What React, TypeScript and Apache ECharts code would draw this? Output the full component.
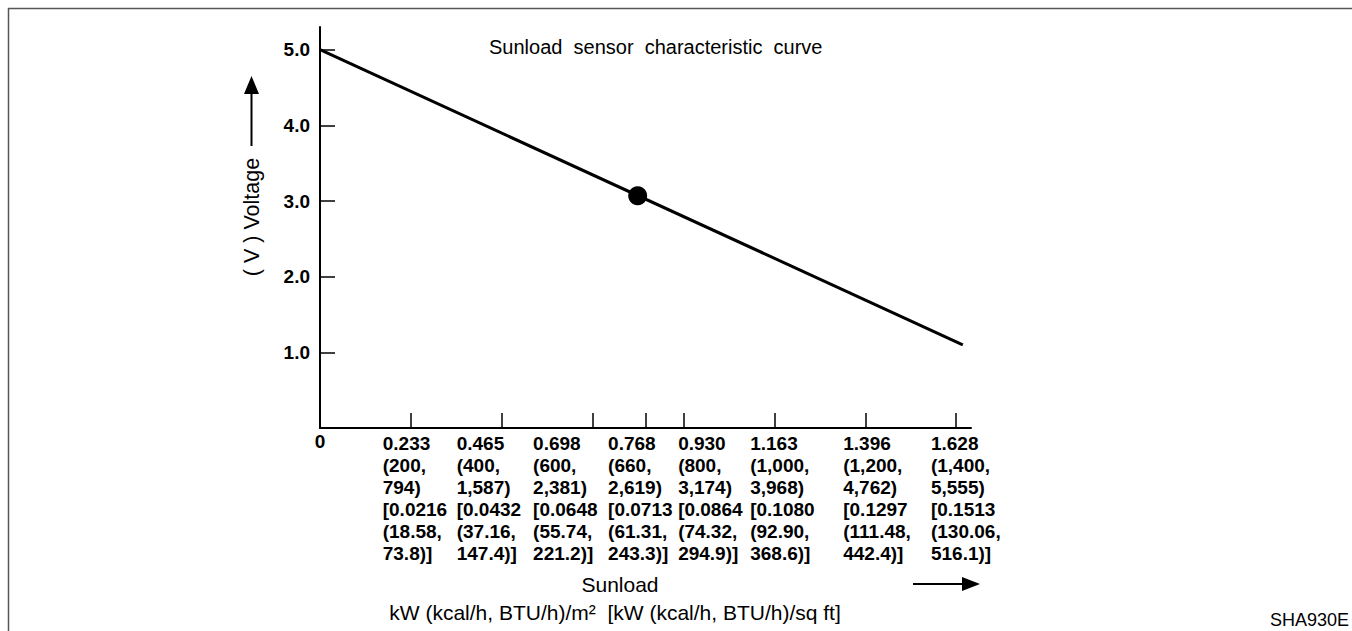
import React, { useEffect, useRef } from "react";
import * as echarts from "echarts";

// Sunload axis: positions of tick marks as drawn (kW/m², linear scale)
const tickMarks = [0.233, 0.465, 0.698, 0.834, 0.93, 1.163, 1.396, 1.628];
// Tick label texts
const tickLabels = [
  "0.233\n(200,\n794)\n[0.0216\n(18.58,\n73.8)]",
  "0.465\n(400,\n1,587)\n[0.0432\n(37.16,\n147.4)]",
  "0.698\n(600,\n2,381)\n[0.0648\n(55.74,\n221.2)]",
  "0.768\n(660,\n2,619)\n[0.0713\n(61.31,\n243.3)]",
  "0.930\n(800,\n3,174)\n[0.0864\n(74.32,\n294.9)]",
  "1.163\n(1,000,\n3,968)\n[0.1080\n(92.90,\n368.6)]",
  "1.396\n(1,200,\n4,762)\n[0.1297\n(111.48,\n442.4)]",
  "1.628\n(1,400,\n5,555)\n[0.1513\n(130.06,\n516.1)]",
];
// Where each label block starts along the axis (layout)
const labelAnchors = [0.1605, 0.3498, 0.5453, 0.7373, 0.9165, 1.1009, 1.339, 1.5635];

const voltTicks = [1, 2, 3, 4, 5];

// Characteristic curve (sunload, voltage)
const curveX = [0, 1.645];
const curveY = [5.0, 1.1];
// Marked point
const pointX = [0.813];
const pointY = [3.07];

const X_MAX = 1.666;
const Y_MAX = 5.3;

const FONT = "'Liberation Sans', Arial, Helvetica, sans-serif";

export default function App() {
  const ref = useRef<HTMLDivElement>(null);

  useEffect(() => {
    if (!ref.current) return;
    const chart = echarts.init(ref.current, null, { renderer: "svg" });

    const option: any = {
      animation: false,
      backgroundColor: "#fff",
      textStyle: { fontFamily: FONT },
      grid: { left: 320, right: 381, top: 27, bottom: 203, containLabel: false },
      xAxis: [
        {
          type: "value",
          position: "bottom",
          min: 0,
          max: X_MAX,
          axisLine: { show: true, onZero: false, lineStyle: { color: "#000", width: 2 } },
          axisTick: {
            show: true,
            inside: true,
            length: 15,
            customValues: tickMarks,
            lineStyle: { color: "#000", width: 1.5 },
          },
          axisLabel: {
            show: true,
            customValues: [0],
            formatter: () => "0",
            color: "#000",
            fontWeight: "bold",
            fontSize: 19,
            fontFamily: FONT,
            margin: 4,
          },
          splitLine: { show: false },
        },
        {
          type: "value",
          position: "bottom",
          gridIndex: 0,
          min: 0,
          max: X_MAX,
          axisLine: { show: false },
          axisTick: { show: false },
          axisLabel: {
            show: true,
            customValues: labelAnchors,
            formatter: (v: number) => {
              const i = labelAnchors.findIndex((a) => Math.abs(a - v) < 1e-6);
              return i >= 0 ? tickLabels[i] : "";
            },
            align: "left",
            color: "#000",
            fontWeight: "bold",
            fontSize: 19,
            lineHeight: 22,
            fontFamily: FONT,
            margin: 4,
          },
          splitLine: { show: false },
        },
      ],
      yAxis: {
        type: "value",
        min: 0,
        max: Y_MAX,
        axisLine: { show: true, onZero: false, lineStyle: { color: "#000", width: 2 } },
        axisTick: {
          show: true,
          inside: true,
          length: 15,
          customValues: voltTicks,
          lineStyle: { color: "#000", width: 1.5 },
        },
        axisLabel: {
          show: true,
          customValues: voltTicks,
          formatter: (v: number) => v.toFixed(1),
          color: "#000",
          fontWeight: "bold",
          fontSize: 19,
          fontFamily: FONT,
          margin: 10,
        },
        splitLine: { show: false },
      },
      series: [
        {
          type: "line",
          xAxisIndex: 0,
          data: curveX.map((x, i) => [x, curveY[i]]),
          showSymbol: false,
          lineStyle: { color: "#000", width: 3 },
          silent: true,
        },
        {
          type: "scatter",
          xAxisIndex: 0,
          data: pointX.map((x, i) => [x, pointY[i]]),
          symbol: "circle",
          symbolSize: 19,
          itemStyle: { color: "#000", opacity: 1 },
          silent: true,
        },
      ],
      graphic: [
        // frame
        { type: "line", shape: { x1: 8, y1: 8.5, x2: 1352, y2: 8.5 }, style: { stroke: "#555", lineWidth: 1.5 } },
        { type: "line", shape: { x1: 8.5, y1: 8, x2: 8.5, y2: 631 }, style: { stroke: "#555", lineWidth: 1.5 } },
        // title
        {
          type: "text",
          x: 489,
          y: 47,
          style: {
            text: "Sunload  sensor  characteristic  curve",
            fill: "#000",
            font: `20px ${FONT}`,
            textVerticalAlign: "middle",
          },
        },
        // y axis name
        {
          type: "text",
          x: 252,
          y: 217,
          rotation: Math.PI / 2,
          style: {
            text: "( V ) Voltage",
            fill: "#000",
            font: `21.5px ${FONT}`,
            textAlign: "center",
            textVerticalAlign: "middle",
          },
        },
        // up arrow
        { type: "line", shape: { x1: 251.5, y1: 146, x2: 251.5, y2: 90 }, style: { stroke: "#000", lineWidth: 2 } },
        { type: "polygon", shape: { points: [[251.5, 76], [244, 94], [259, 94]] }, style: { fill: "#000" } },
        // x axis name
        {
          type: "text",
          x: 620,
          y: 584,
          style: {
            text: "Sunload",
            fill: "#000",
            font: `21px ${FONT}`,
            textAlign: "center",
            textVerticalAlign: "middle",
          },
        },
        {
          type: "text",
          x: 615,
          y: 612,
          style: {
            text: "kW (kcal/h, BTU/h)/m²  [kW (kcal/h, BTU/h)/sq ft]",
            fill: "#000",
            font: `21px ${FONT}`,
            textAlign: "center",
            textVerticalAlign: "middle",
          },
        },
        // right arrow
        { type: "line", shape: { x1: 913, y1: 584, x2: 966, y2: 584 }, style: { stroke: "#000", lineWidth: 2 } },
        { type: "polygon", shape: { points: [[980, 584], [962, 577], [962, 591]] }, style: { fill: "#000" } },
        // figure code
        {
          type: "text",
          x: 1349,
          y: 620,
          style: {
            text: "SHA930E",
            fill: "#000",
            font: `18px ${FONT}`,
            textAlign: "right",
            textVerticalAlign: "middle",
          },
        },
      ],
    };

    chart.setOption(option);
    return () => chart.dispose();
  }, []);

  return (
    <div
      ref={ref}
      style={{ position: "fixed", left: 0, top: 0, width: 1352, height: 631 }}
    />
  );
}
